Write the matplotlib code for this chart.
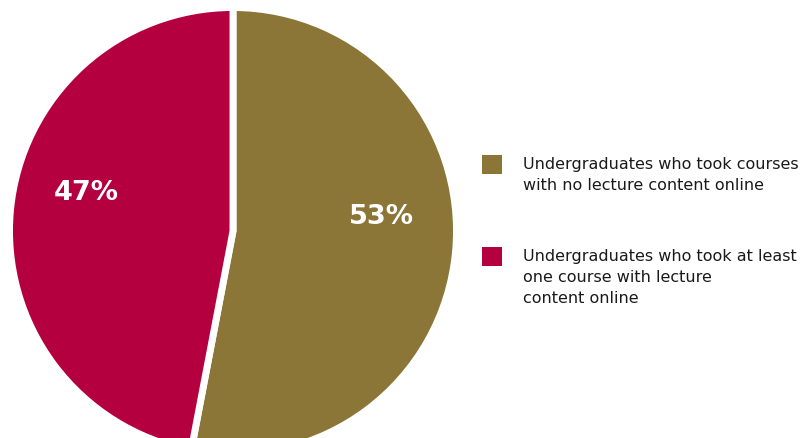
import matplotlib
matplotlib.use("Agg")
import matplotlib.pyplot as plt
from matplotlib.patches import Rectangle

categories = ["Undergraduates who took courses\nwith no lecture content online",
              "Undergraduates who took at least\none course with lecture\ncontent online"]
values = [53, 47]
pct_labels = ["53%", "47%"]
colors = ["#8B7537", "#B5003F"]

W, H = 803, 438
fig = plt.figure(figsize=(W / 100, H / 100), dpi=100)
ax = fig.add_axes([0, 0, 1, 1])
ax.set_axis_off()

cx, cy, r = 233, H - 231, 223.5
wedges, _ = ax.pie(values, colors=colors, startangle=90, counterclock=False,
                   center=(cx, cy), radius=r,
                   wedgeprops=dict(edgecolor="white", linewidth=5))
ax.set_xlim(0, W)
ax.set_ylim(0, H)
ax.set_aspect("equal")

label_pos = [(381, 217), (86, 193)]
for (x, y), t in zip(label_pos, pct_labels):
    ax.text(x, H - y, t, color="white", fontsize=19.5, fontweight="bold",
            ha="center", va="center", family="DejaVu Sans")

legend_tops = [155, 247]
for top, col, lab in zip(legend_tops, colors, categories):
    ax.add_patch(Rectangle((482, H - top - 19), 20, 19, facecolor=col, edgecolor="none"))
    ax.text(523, H - top - 2, lab, fontsize=11.5, color="#1a1a1a", ha="left", va="top",
            linespacing=1.5, family="DejaVu Sans")

fig.savefig("out.png", dpi=100)
